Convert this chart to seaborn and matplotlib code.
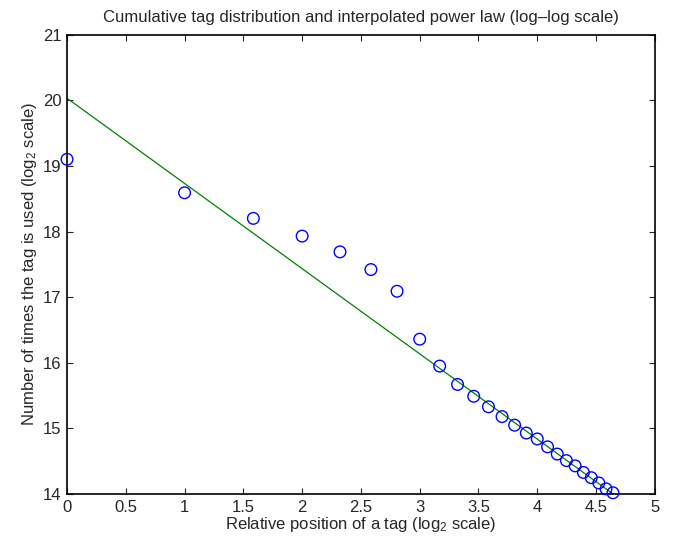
import numpy as np
import pandas as pd
import matplotlib
matplotlib.use("Agg")
import matplotlib.pyplot as plt
import seaborn as sns

# tag rank (1..25) and cumulative use count, both on log2 scale
ranks = list(range(1, 26))
usage_log2 = [
    19.10, 18.59, 18.20, 17.93, 17.69, 17.42, 17.09, 16.36, 15.95, 15.67,
    15.49, 15.33, 15.18, 15.05, 14.93, 14.84, 14.72, 14.61, 14.51, 14.43,
    14.33, 14.25, 14.17, 14.08, 14.02,
]
# interpolated power law: log2(count) = intercept + slope * log2(rank)
fit_intercept = 20.03
fit_slope = -1.298

x_ticks = [0, 0.5, 1, 1.5, 2, 2.5, 3, 3.5, 4, 4.5, 5]
x_tick_labels = ["0", "0.5", "1", "1.5", "2", "2.5", "3", "3.5", "4", "4.5", "5"]
y_ticks = [14, 15, 16, 17, 18, 19, 20, 21]

df = pd.DataFrame({"pos": np.log2(ranks), "uses": usage_log2})
fit_x = np.array([0.0, df["pos"].max()])
fit = pd.DataFrame({"pos": fit_x, "uses": fit_intercept + fit_slope * fit_x})

sns.set_style("ticks")
plt.rcParams["font.family"] = ["Liberation Sans", "DejaVu Sans"]
plt.rcParams["mathtext.fontset"] = "custom"
plt.rcParams["mathtext.rm"] = "Liberation Sans"
plt.rcParams["mathtext.it"] = "Liberation Sans"
plt.rcParams["mathtext.default"] = "regular"

fs = 12
fig = plt.figure(figsize=(6.73, 5.40), dpi=100)
ax = fig.add_axes([0.0996, 0.085, 0.8734, 0.851])

sns.lineplot(data=fit, x="pos", y="uses", ax=ax, color="#008000", linewidth=0.9)
sns.scatterplot(data=df, x="pos", y="uses", ax=ax, marker="o", s=70,
                facecolor="none", edgecolor="#0000ff", linewidth=1.0, zorder=3,
                clip_on=False)

ax.set_xlim(0, 5)
ax.set_ylim(14, 21)
ax.set_xticks(x_ticks)
ax.set_xticklabels(x_tick_labels)
ax.set_yticks(y_ticks)
ax.tick_params(direction="in", top=True, right=True, length=4, width=0.8,
               labelsize=fs, pad=4)
for s in ax.spines.values():
    s.set_visible(True)
    s.set_linewidth(1.2)
    s.set_color("black")

ax.set_title("Cumulative tag distribution and interpolated power law (log\u2013log scale)",
             fontsize=fs, pad=9)
ax.set_xlabel("Relative position of a tag (log$_2$ scale)", fontsize=fs, labelpad=0)
ax.set_ylabel("Number of times the tag is used (log$_2$ scale)", fontsize=fs, labelpad=3)

fig.savefig("out.png", dpi=100)
